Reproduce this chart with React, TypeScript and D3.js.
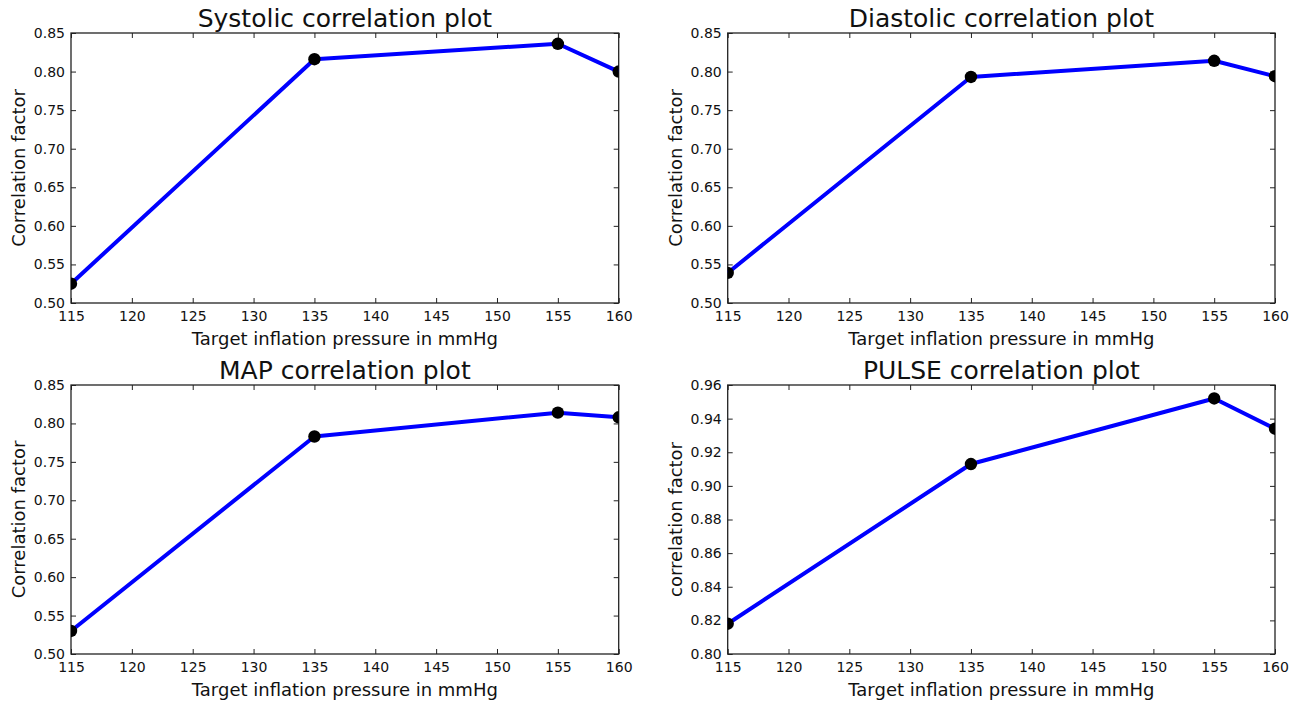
import React, { useEffect, useRef } from "react";
import * as d3 from "d3";

// target inflation pressures (x) shared by all four plots
const pressures = [115, 135, 155, 160];

// correlation factor per plot
const systolic = [0.525, 0.816, 0.836, 0.8];
const diastolic = [0.539, 0.793, 0.814, 0.794];
const mapValues = [0.53, 0.783, 0.814, 0.808];
const pulse = [0.818, 0.913, 0.952, 0.934];

const titles = [
  "Systolic correlation plot",
  "Diastolic correlation plot",
  "MAP correlation plot",
  "PULSE correlation plot",
];
const yLabels = ["Correlation factor", "Correlation factor", "Correlation factor", "correlation factor"];

const xTicks = [115, 120, 125, 130, 135, 140, 145, 150, 155, 160];
const yTicksCorr = [0.5, 0.55, 0.6, 0.65, 0.7, 0.75, 0.8, 0.85];
const yTicksPulse = [0.8, 0.82, 0.84, 0.86, 0.88, 0.9, 0.92, 0.94, 0.96];

const width = 1299;
const height = 702;
const font = "'DejaVu Sans', sans-serif";

const App = () => {
  const svgRef = useRef<SVGSVGElement | null>(null);

  useEffect(() => {
    const svg = d3.select(svgRef.current).attr("width", width).attr("height", height);
    svg.selectAll("*").remove();

    const panels = [
      { values: systolic, yTicks: yTicksCorr, col: 0, row: 0 },
      { values: diastolic, yTicks: yTicksCorr, col: 1, row: 0 },
      { values: mapValues, yTicks: yTicksCorr, col: 0, row: 1 },
      { values: pulse, yTicks: yTicksPulse, col: 1, row: 1 },
    ];

    // axes boxes in pixels
    const cols = [
      [71, 618.7],
      [727.7, 1275],
    ];
    const rows = [
      [33, 303],
      [385, 654],
    ];

    panels.forEach((p, i) => {
      const [x0, x1] = cols[p.col];
      const [y0, y1] = rows[p.row];

      const x = d3.scaleLinear().domain([115, 160]).range([x0, x1]);
      const y = d3
        .scaleLinear()
        .domain([p.yTicks[0], p.yTicks[p.yTicks.length - 1]])
        .range([y1, y0]);

      const g = svg.append("g");

      const clipId = `clip-${i}`;
      g.append("clipPath")
        .attr("id", clipId)
        .append("rect")
        .attr("x", x0)
        .attr("y", y0)
        .attr("width", x1 - x0)
        .attr("height", y1 - y0);

      // bottom axis
      const bottom = g
        .append("g")
        .attr("transform", `translate(0,${y1})`)
        .call(d3.axisBottom(x).tickValues(xTicks).tickSize(-5).tickPadding(8.5).tickFormat(d3.format("d")));
      // left axis
      const left = g
        .append("g")
        .attr("transform", `translate(${x0},0)`)
        .call(d3.axisLeft(y).tickValues(p.yTicks).tickSize(-5).tickPadding(6).tickFormat(d3.format(".2f")));
      // top and right ticks
      const top = g
        .append("g")
        .attr("transform", `translate(0,${y0})`)
        .call(d3.axisTop(x).tickValues(xTicks).tickSize(-5).tickFormat(() => ""));
      const right = g
        .append("g")
        .attr("transform", `translate(${x1},0)`)
        .call(d3.axisRight(y).tickValues(p.yTicks).tickSize(-5).tickFormat(() => ""));

      [bottom, left, top, right].forEach((a) => {
        a.select(".domain").remove();
        a.selectAll("line").attr("stroke", "#222").attr("stroke-width", 1);
        a.selectAll("text").attr("font-family", font).attr("font-size", 14).attr("fill", "#111");
      });

      // frame
      g.append("rect")
        .attr("x", x0)
        .attr("y", y0)
        .attr("width", x1 - x0)
        .attr("height", y1 - y0)
        .attr("fill", "none")
        .attr("stroke", "#222")
        .attr("stroke-width", 1.3);

      const pts = pressures.map((d, k) => [d, p.values[k]] as [number, number]);

      const plot = g.append("g").attr("clip-path", `url(#${clipId})`);
      plot
        .append("path")
        .datum(pts)
        .attr("fill", "none")
        .attr("stroke", "#0000ff")
        .attr("stroke-width", 4)
        .attr("stroke-linejoin", "round")
        .attr(
          "d",
          d3
            .line<[number, number]>()
            .x((d) => x(d[0]))
            .y((d) => y(d[1]))
        );
      plot
        .selectAll("circle")
        .data(pts)
        .enter()
        .append("circle")
        .attr("cx", (d) => x(d[0]))
        .attr("cy", (d) => y(d[1]))
        .attr("r", 6.2)
        .attr("fill", "#000");

      // title
      g.append("text")
        .attr("x", (x0 + x1) / 2)
        .attr("y", y0 - 6.5)
        .attr("text-anchor", "middle")
        .attr("font-family", font)
        .attr("font-size", 25)
        .attr("fill", "#111")
        .text(titles[i]);

      // x label
      g.append("text")
        .attr("x", (x0 + x1) / 2)
        .attr("y", y1 + 42)
        .attr("text-anchor", "middle")
        .attr("font-family", font)
        .attr("font-size", 18)
        .attr("fill", "#111")
        .text("Target inflation pressure in mmHg");

      // y label
      g.append("text")
        .attr("transform", `translate(${x0 - 46},${(y0 + y1) / 2}) rotate(-90)`)
        .attr("text-anchor", "middle")
        .attr("font-family", font)
        .attr("font-size", 18)
        .attr("fill", "#111")
        .text(yLabels[i]);
    });
  }, []);

  return (
    <div style={{ position: "absolute", left: 0, top: 0, background: "#fff" }}>
      <svg ref={svgRef} style={{ display: "block" }}></svg>
    </div>
  );
};

export default App;
